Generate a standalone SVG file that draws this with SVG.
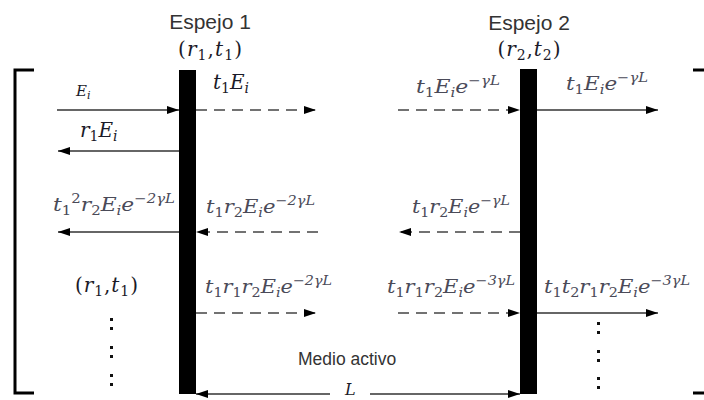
<svg xmlns="http://www.w3.org/2000/svg" width="704" height="400" viewBox="0 0 704 400">
<style>
.title{font-family:"Liberation Sans",Arial,sans-serif;font-size:21px;fill:#333}
.lbl{font-family:"Liberation Sans",Arial,sans-serif;font-size:17.5px;fill:#333}
.m{font-family:"DejaVu Serif","Liberation Serif",serif;font-style:italic;font-size:20px;fill:#1a1a28}
.f{font-family:"DejaVu Serif","Liberation Serif",serif;font-style:italic;font-size:19px;fill:#4a4a58}
.up{font-style:normal}
.s{font-size:14px}
.sf{font-size:13px}
.sol{stroke:#333;stroke-width:1.3;fill:none}
.dash{stroke:#444;stroke-width:1.3;fill:none;stroke-dasharray:11 7}
.br{stroke:#000;stroke-width:3;fill:none}
.dot{fill:#111}
</style>
<defs>
<marker id="ah" viewBox="0 0 12 8" refX="12" refY="4" markerWidth="12" markerHeight="8" markerUnits="userSpaceOnUse" orient="auto">
<path d="M0,0 L12,4 L0,8 Z" fill="#000"/>
</marker>
</defs>

<g id="bracket-left"><path class="br" d="M34,70 H15 V393 H34"/></g>
<g id="bracket-right"><path class="br" d="M693,70 H704 M693,393 H704"/></g>

<g id="mirror1">
<rect x="179" y="70" width="17" height="324" fill="#000"/>
<text class="title" x="210" y="29" text-anchor="middle">Espejo 1</text>
<text class="m" x="210" y="56" text-anchor="middle" textLength="64"><tspan class="up">(</tspan>r<tspan class="s up" dy="4">1</tspan><tspan class="up" dy="-4">,</tspan>t<tspan class="s up" dy="4">1</tspan><tspan class="up" dy="-4">)</tspan></text>
</g>

<g id="mirror2">
<rect x="520" y="69" width="17" height="325" fill="#000"/>
<text class="title" x="529" y="30" text-anchor="middle">Espejo 2</text>
<text class="m" x="529" y="56" text-anchor="middle" textLength="63"><tspan class="up">(</tspan>r<tspan class="s up" dy="4">2</tspan><tspan class="up" dy="-4">,</tspan>t<tspan class="s up" dy="4">2</tspan><tspan class="up" dy="-4">)</tspan></text>
</g>

<g id="connectors">
<line class="sol" x1="57" y1="110" x2="179" y2="110" marker-end="url(#ah)"/>
<line class="dash" x1="196" y1="110" x2="316" y2="110" marker-end="url(#ah)"/>
<line class="dash" x1="398" y1="110" x2="520" y2="110" marker-end="url(#ah)"/>
<line class="sol" x1="537" y1="110" x2="658" y2="110" marker-end="url(#ah)"/>
<line class="sol" x1="179" y1="151" x2="58" y2="151" marker-end="url(#ah)"/>
<line class="sol" x1="179" y1="232" x2="58" y2="232" marker-end="url(#ah)"/>
<line class="dash" x1="318" y1="232" x2="196" y2="232" marker-end="url(#ah)"/>
<line class="dash" x1="520" y1="232" x2="399" y2="232" marker-end="url(#ah)"/>
<line class="dash" x1="196" y1="313" x2="316" y2="313" marker-end="url(#ah)"/>
<line class="dash" x1="398" y1="313" x2="520" y2="313" marker-end="url(#ah)"/>
<line class="sol" x1="537" y1="313" x2="658" y2="313" marker-end="url(#ah)"/>
<line class="sol" x1="330" y1="394" x2="196" y2="394" marker-end="url(#ah)"/>
<line class="sol" x1="370" y1="394" x2="520" y2="394" marker-end="url(#ah)"/>
</g>

<g id="labels">
<text class="m" x="76" y="96" style="font-size:15px">E<tspan class="sf" dy="3" style="font-size:11px">i</tspan></text>
<text class="m" x="213" y="89">t<tspan class="s up" dy="4">1</tspan><tspan dy="-4">E</tspan><tspan class="s" dy="4">i</tspan></text>
<text class="m" x="80" y="137">r<tspan class="s up" dy="4">1</tspan><tspan dy="-4">E</tspan><tspan class="s" dy="4">i</tspan></text>
<text class="f" x="416" y="93" textLength="84" lengthAdjust="spacingAndGlyphs">t<tspan class="sf up" dy="4">1</tspan><tspan dy="-4">E</tspan><tspan class="sf" dy="4">i</tspan><tspan dy="-4">e</tspan><tspan class="sf" dy="-8">−γL</tspan></text>
<text class="f" x="566" y="90" textLength="82" lengthAdjust="spacingAndGlyphs">t<tspan class="sf up" dy="4">1</tspan><tspan dy="-4">E</tspan><tspan class="sf" dy="4">i</tspan><tspan dy="-4">e</tspan><tspan class="sf" dy="-8">−γL</tspan></text>
<text class="f" x="53" y="211" textLength="122" lengthAdjust="spacingAndGlyphs">t<tspan class="sf up" dy="4">1</tspan><tspan class="sf up" dy="-12">2</tspan><tspan dy="8">r</tspan><tspan class="sf up" dy="4">2</tspan><tspan dy="-4">E</tspan><tspan class="sf" dy="4">i</tspan><tspan dy="-4">e</tspan><tspan class="sf" dy="-8">−2γL</tspan></text>
<text class="f" x="206" y="213" textLength="109" lengthAdjust="spacingAndGlyphs">t<tspan class="sf up" dy="4">1</tspan><tspan dy="-4">r</tspan><tspan class="sf up" dy="4">2</tspan><tspan dy="-4">E</tspan><tspan class="sf" dy="4">i</tspan><tspan dy="-4">e</tspan><tspan class="sf" dy="-8">−2γL</tspan></text>
<text class="f" x="412" y="213" textLength="98" lengthAdjust="spacingAndGlyphs">t<tspan class="sf up" dy="4">1</tspan><tspan dy="-4">r</tspan><tspan class="sf up" dy="4">2</tspan><tspan dy="-4">E</tspan><tspan class="sf" dy="4">i</tspan><tspan dy="-4">e</tspan><tspan class="sf" dy="-8">−γL</tspan></text>
<text class="m" x="75" y="292" textLength="63"><tspan class="up">(</tspan>r<tspan class="s up" dy="4">1</tspan><tspan class="up" dy="-4">,</tspan>t<tspan class="s up" dy="4">1</tspan><tspan class="up" dy="-4">)</tspan></text>
<text class="f" x="205" y="293" textLength="127" lengthAdjust="spacingAndGlyphs">t<tspan class="sf up" dy="4">1</tspan><tspan dy="-4">r</tspan><tspan class="sf up" dy="4">1</tspan><tspan dy="-4">r</tspan><tspan class="sf up" dy="4">2</tspan><tspan dy="-4">E</tspan><tspan class="sf" dy="4">i</tspan><tspan dy="-4">e</tspan><tspan class="sf" dy="-8">−2γL</tspan></text>
<text class="f" x="387" y="293" textLength="128" lengthAdjust="spacingAndGlyphs">t<tspan class="sf up" dy="4">1</tspan><tspan dy="-4">r</tspan><tspan class="sf up" dy="4">1</tspan><tspan dy="-4">r</tspan><tspan class="sf up" dy="4">2</tspan><tspan dy="-4">E</tspan><tspan class="sf" dy="4">i</tspan><tspan dy="-4">e</tspan><tspan class="sf" dy="-8">−3γL</tspan></text>
<text class="f" x="544" y="293" textLength="146" lengthAdjust="spacingAndGlyphs">t<tspan class="sf up" dy="4">1</tspan><tspan dy="-4">t</tspan><tspan class="sf up" dy="4">2</tspan><tspan dy="-4">r</tspan><tspan class="sf up" dy="4">1</tspan><tspan dy="-4">r</tspan><tspan class="sf up" dy="4">2</tspan><tspan dy="-4">E</tspan><tspan class="sf" dy="4">i</tspan><tspan dy="-4">e</tspan><tspan class="sf" dy="-8">−3γL</tspan></text>
<text class="lbl" x="298" y="365">Medio activo</text>
<text class="m" x="345" y="395" style="font-size:16px">L</text>
</g>

<g id="dots">
<rect class="dot" x="110" y="318" width="3" height="3"/>
<rect class="dot" x="110" y="327" width="3" height="3"/>
<rect class="dot" x="110" y="346" width="3" height="3"/>
<rect class="dot" x="110" y="355" width="3" height="3"/>
<rect class="dot" x="110" y="374" width="3" height="3"/>
<rect class="dot" x="110" y="383" width="3" height="3"/>
<rect class="dot" x="597" y="322" width="3" height="3"/>
<rect class="dot" x="597" y="331" width="3" height="3"/>
<rect class="dot" x="597" y="350" width="3" height="3"/>
<rect class="dot" x="597" y="359" width="3" height="3"/>
<rect class="dot" x="597" y="377" width="3" height="3"/>
<rect class="dot" x="597" y="386" width="3" height="3"/>
</g>
</svg>
